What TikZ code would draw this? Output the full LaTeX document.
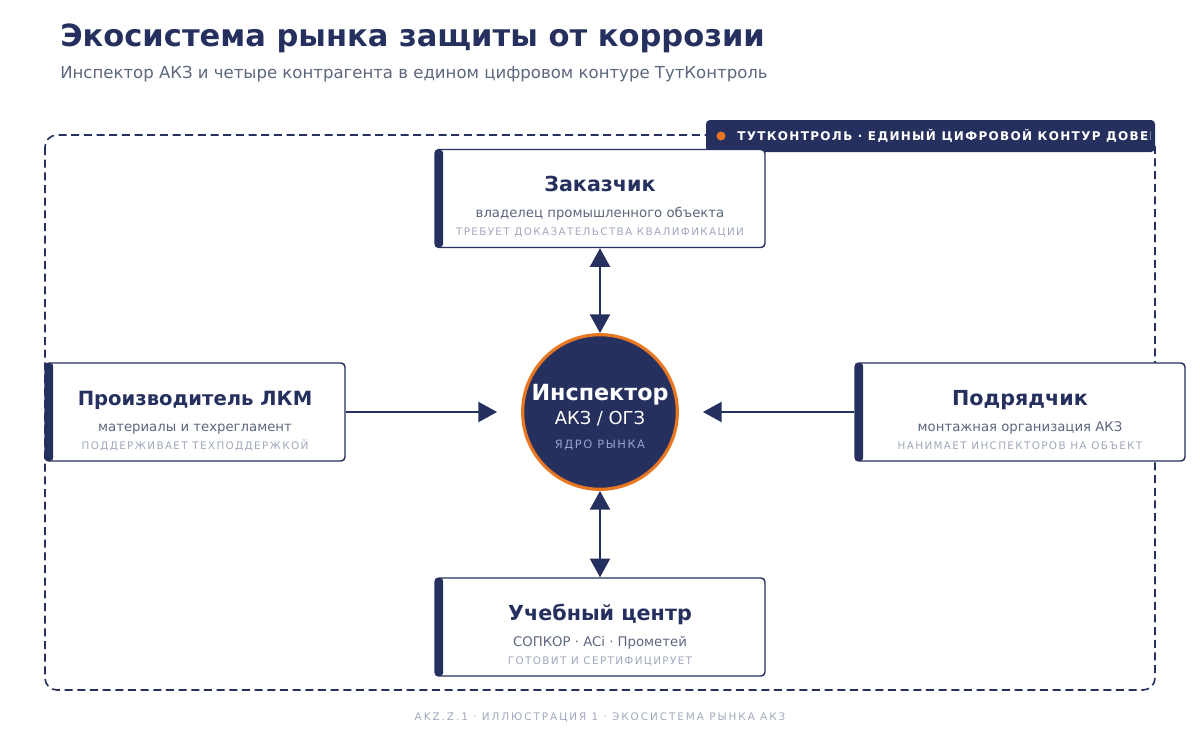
\documentclass[tikz,border=0pt]{standalone}
\usepackage{fontspec}
\setmainfont{DejaVu Sans}
\newfontfamily\spacedfont[LetterSpace=13]{DejaVu Sans}
\newfontfamily\badgefont[LetterSpace=11]{DejaVu Sans}
\newfontfamily\widefont[LetterSpace=19]{DejaVu Sans}
\usetikzlibrary{arrows.meta}

\definecolor{navy}{RGB}{37,48,94}
\definecolor{accent}{RGB}{232,119,34}
\definecolor{subgray}{RGB}{92,102,124}
\definecolor{softgray}{RGB}{160,168,188}
\definecolor{coregray}{RGB}{150,162,200}

\begin{document}
\begin{tikzpicture}[
    >={Triangle[length=14pt,width=15pt]},
    x=0.75pt,
    y=-0.75pt,
    actor/.style={draw=navy, line width=1.1pt, fill=white, rounded corners=3pt,
        minimum height=73.5pt, inner sep=0pt},
    core/.style={circle, fill=navy, draw=accent, line width=2.4pt,
        minimum size=116pt, inner sep=0pt},
    link/.style={draw=navy, line width=1.5pt},
    headtxt/.style={anchor=base, text=navy, font=\fontsize{15.5pt}{18pt}\selectfont\bfseries},
    roletxt/.style={anchor=base, text=subgray, font=\fontsize{9.95pt}{12pt}\selectfont},
    notetxt/.style={anchor=base, text=softgray, font=\spacedfont\fontsize{7.8pt}{9pt}\selectfont}
]
\useasboundingbox (0,0) rectangle (1200,750);

% 1. Title and subtitle
\node[anchor=base west, inner sep=0pt, text=navy, font=\fontsize{22.9pt}{26pt}\selectfont\bfseries] (title) at (60,46)
    {Экосистема рынка защиты от коррозии};
\node[anchor=base west, inner sep=0pt, text=subgray, font=\fontsize{12.4pt}{14pt}\selectfont] (subtitle) at (60,78)
    {Инспектор АКЗ и четыре контрагента в едином цифровом контуре ТутКонтроль};

% 2. Dashed digital contour
\draw[navy, line width=1.2pt, dash pattern=on 6pt off 3.5pt, rounded corners=9pt]
    (45,135) rectangle (1155,690);

% 3. Contour badge (text cut at the badge edge)
\fill[navy, rounded corners=3pt] (706,120) rectangle (1155,152);
\fill[accent] (721,136) circle (4.5);
\begin{scope}
    \clip (706,120) rectangle (1150,152);
    \node[anchor=base west, inner sep=0pt, text=white, font=\badgefont\fontsize{9pt}{10pt}\selectfont\bfseries] (badge) at (737,140.5)
        {ТУТКОНТРОЛЬ · ЕДИНЫЙ ЦИФРОВОЙ КОНТУР ДОВЕРИЯ};
\end{scope}

% 4. Counterparty boxes
\node[actor, minimum width=247.5pt] (zak) at (600,198.5) {};
\node[actor, minimum width=225pt] (proizv) at (195,412) {};
\node[actor, minimum width=247.5pt] (podr) at (1020,412) {};
\node[actor, minimum width=247.5pt] (uch) at (600,627) {};

% left accent bars
\fill[navy, rounded corners=2pt] (435,150) rectangle (443,247);
\fill[navy, rounded corners=2pt] (45,363) rectangle (53,461);
\fill[navy, rounded corners=2pt] (855,363) rectangle (863,461);
\fill[navy, rounded corners=2pt] (435,578) rectangle (443,676);

% Заказчик
\node[headtxt] (zakhead) at (600,191.5) {Заказчик};
\node[roletxt] (zakrole) at (600,217.5) {владелец промышленного объекта};
\node[notetxt] (zaknote) at (600,235.5) {ТРЕБУЕТ ДОКАЗАТЕЛЬСТВА КВАЛИФИКАЦИИ};

% Производитель ЛКМ
\node[headtxt, font=\fontsize{14.7pt}{18pt}\selectfont\bfseries] (proizvhead) at (195,405) {Производитель ЛКМ};
\node[roletxt] (proizvrole) at (195,431) {материалы и техрегламент};
\node[notetxt] (proizvnote) at (195,449) {ПОДДЕРЖИВАЕТ ТЕХПОДДЕРЖКОЙ};

% Подрядчик
\node[headtxt] (podrhead) at (1020,405) {Подрядчик};
\node[roletxt] (podrrole) at (1020,431) {монтажная организация АКЗ};
\node[notetxt] (podrnote) at (1020,449) {НАНИМАЕТ ИНСПЕКТОРОВ НА ОБЪЕКТ};

% Учебный центр
\node[headtxt] (uchhead) at (600,620) {Учебный центр};
\node[roletxt] (uchrole) at (600,646) {СОПКОР · ACi · Прометей};
\node[notetxt] (uchnote) at (600,664) {ГОТОВИТ И СЕРТИФИЦИРУЕТ};

% 5. Inspector core
\node[core] (insp) at (600,412) {};
\node[anchor=base, text=white, font=\fontsize{16.7pt}{19pt}\selectfont\bfseries] (insphead) at (600,400) {Инспектор};
\node[anchor=base, text=white, font=\fontsize{13.4pt}{15pt}\selectfont] (insprole) at (600,424.5) {АКЗ / ОГЗ};
\node[anchor=base, text=coregray, font=\spacedfont\fontsize{8.6pt}{10pt}\selectfont] (inspnote) at (600,448) {ЯДРО РЫНКА};

% 6. Links to the core
\draw[link, <->] (zak.south) -- (insp.north);
\draw[link, <->] (uch.north) -- (insp.south);
\draw[link, ->, shorten >=18pt] (proizv.east) -- (insp.west);
\draw[link, ->, shorten >=18pt] (podr.west) -- (insp.east);

% 7. Footer
\node[anchor=base, text=softgray, font=\widefont\fontsize{7.8pt}{9pt}\selectfont] (footer) at (600,720)
    {AKZ.Z.1 · ИЛЛЮСТРАЦИЯ 1 · ЭКОСИСТЕМА РЫНКА АКЗ};

\end{tikzpicture}
\end{document}
